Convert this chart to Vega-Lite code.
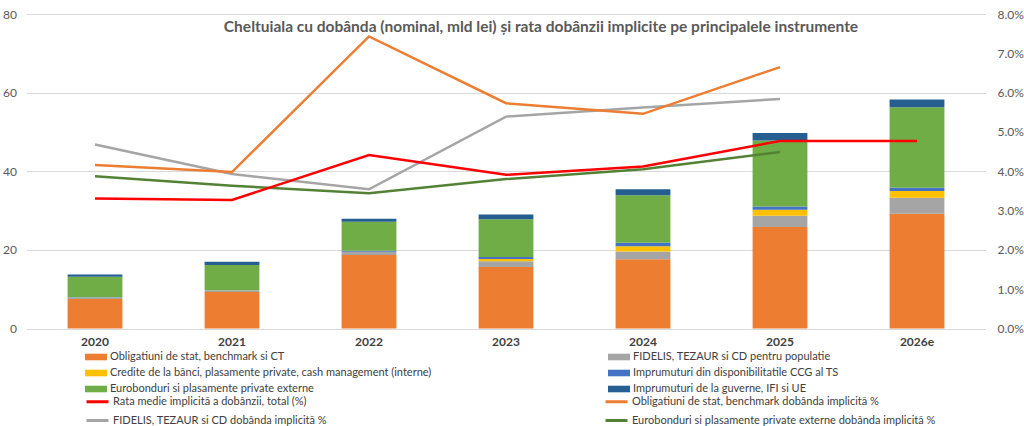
{
  "$schema": "https://vega.github.io/schema/vega-lite/v6.json",
  "width": 959,
  "height": 314.5,
  "autosize": {"type": "none"},
  "padding": {"left": 26.5, "top": 14, "right": 38.5, "bottom": 97.5},
  "config": {
    "view": {"stroke": null},
    "font": "Lato",
    "axis": {"labelFont": "Lato", "labelColor": "#595959", "labelFontSize": 12},
    "legend": {"labelFont": "Lato", "labelFontSize": 11, "labelColor": "#404040", "padding": 0}
  },
  "title": {
    "text": "Cheltuiala cu dobânda (nominal, mld lei) și rata dobânzii implicite pe principalele instrumente",
    "font": "Lato",
    "fontSize": 15.5,
    "fontWeight": "bold",
    "color": "#595959",
    "anchor": "middle",
    "baseline": "middle",
    "offset": 0,
    "dx": 35,
    "dy": 34
  },
  "datasets": {
    "bare": [
      {"an": "2020", "instrument": "Obligatiuni de stat, benchmark si CT", "valoare": 7.5},
      {"an": "2020", "instrument": "FIDELIS, TEZAUR si CD pentru populatie", "valoare": 0.4},
      {"an": "2020", "instrument": "Credite de la bănci, plasamente private, cash management (interne)", "valoare": 0.0},
      {"an": "2020", "instrument": "Imprumuturi din disponibilitatile CCG al TS", "valoare": 0.05},
      {"an": "2020", "instrument": "Eurobonduri si plasamente private externe", "valoare": 5.2},
      {"an": "2020", "instrument": "Imprumuturi de la guverne, IFI si UE", "valoare": 0.6},
      {"an": "2021", "instrument": "Obligatiuni de stat, benchmark si CT", "valoare": 9.3},
      {"an": "2021", "instrument": "FIDELIS, TEZAUR si CD pentru populatie", "valoare": 0.4},
      {"an": "2021", "instrument": "Credite de la bănci, plasamente private, cash management (interne)", "valoare": 0.0},
      {"an": "2021", "instrument": "Imprumuturi din disponibilitatile CCG al TS", "valoare": 0.05},
      {"an": "2021", "instrument": "Eurobonduri si plasamente private externe", "valoare": 6.4},
      {"an": "2021", "instrument": "Imprumuturi de la guverne, IFI si UE", "valoare": 0.85},
      {"an": "2022", "instrument": "Obligatiuni de stat, benchmark si CT", "valoare": 18.7},
      {"an": "2022", "instrument": "FIDELIS, TEZAUR si CD pentru populatie", "valoare": 0.75},
      {"an": "2022", "instrument": "Credite de la bănci, plasamente private, cash management (interne)", "valoare": 0.05},
      {"an": "2022", "instrument": "Imprumuturi din disponibilitatile CCG al TS", "valoare": 0.25},
      {"an": "2022", "instrument": "Eurobonduri si plasamente private externe", "valoare": 7.4},
      {"an": "2022", "instrument": "Imprumuturi de la guverne, IFI si UE", "valoare": 0.75},
      {"an": "2023", "instrument": "Obligatiuni de stat, benchmark si CT", "valoare": 15.65},
      {"an": "2023", "instrument": "FIDELIS, TEZAUR si CD pentru populatie", "valoare": 1.45},
      {"an": "2023", "instrument": "Credite de la bănci, plasamente private, cash management (interne)", "valoare": 0.6},
      {"an": "2023", "instrument": "Imprumuturi din disponibilitatile CCG al TS", "valoare": 0.5},
      {"an": "2023", "instrument": "Eurobonduri si plasamente private externe", "valoare": 9.6},
      {"an": "2023", "instrument": "Imprumuturi de la guverne, IFI si UE", "valoare": 1.2},
      {"an": "2024", "instrument": "Obligatiuni de stat, benchmark si CT", "valoare": 17.6},
      {"an": "2024", "instrument": "FIDELIS, TEZAUR si CD pentru populatie", "valoare": 2.0},
      {"an": "2024", "instrument": "Credite de la bănci, plasamente private, cash management (interne)", "valoare": 1.3},
      {"an": "2024", "instrument": "Imprumuturi din disponibilitatile CCG al TS", "valoare": 0.9},
      {"an": "2024", "instrument": "Eurobonduri si plasamente private externe", "valoare": 12.1},
      {"an": "2024", "instrument": "Imprumuturi de la guverne, IFI si UE", "valoare": 1.5},
      {"an": "2025", "instrument": "Obligatiuni de stat, benchmark si CT", "valoare": 25.8},
      {"an": "2025", "instrument": "FIDELIS, TEZAUR si CD pentru populatie", "valoare": 2.9},
      {"an": "2025", "instrument": "Credite de la bănci, plasamente private, cash management (interne)", "valoare": 1.5},
      {"an": "2025", "instrument": "Imprumuturi din disponibilitatile CCG al TS", "valoare": 0.85},
      {"an": "2025", "instrument": "Eurobonduri si plasamente private externe", "valoare": 16.75},
      {"an": "2025", "instrument": "Imprumuturi de la guverne, IFI si UE", "valoare": 1.9},
      {"an": "2026e", "instrument": "Obligatiuni de stat, benchmark si CT", "valoare": 29.2},
      {"an": "2026e", "instrument": "FIDELIS, TEZAUR si CD pentru populatie", "valoare": 4.05},
      {"an": "2026e", "instrument": "Credite de la bănci, plasamente private, cash management (interne)", "valoare": 1.7},
      {"an": "2026e", "instrument": "Imprumuturi din disponibilitatile CCG al TS", "valoare": 0.85},
      {"an": "2026e", "instrument": "Eurobonduri si plasamente private externe", "valoare": 20.5},
      {"an": "2026e", "instrument": "Imprumuturi de la guverne, IFI si UE", "valoare": 1.95}
    ],
    "rate": [
      {"an": "2020", "serie": "FIDELIS, TEZAUR si CD dobânda implicită %", "rata": 0.0468},
      {"an": "2021", "serie": "FIDELIS, TEZAUR si CD dobânda implicită %", "rata": 0.0393},
      {"an": "2022", "serie": "FIDELIS, TEZAUR si CD dobânda implicită %", "rata": 0.0354},
      {"an": "2023", "serie": "FIDELIS, TEZAUR si CD dobânda implicită %", "rata": 0.0539},
      {"an": "2024", "serie": "FIDELIS, TEZAUR si CD dobânda implicită %", "rata": 0.0562},
      {"an": "2025", "serie": "FIDELIS, TEZAUR si CD dobânda implicită %", "rata": 0.0584},
      {"an": "2020", "serie": "Obligatiuni de stat, benchmark dobânda implicită %", "rata": 0.0416},
      {"an": "2021", "serie": "Obligatiuni de stat, benchmark dobânda implicită %", "rata": 0.0398},
      {"an": "2022", "serie": "Obligatiuni de stat, benchmark dobânda implicită %", "rata": 0.0743},
      {"an": "2023", "serie": "Obligatiuni de stat, benchmark dobânda implicită %", "rata": 0.0573},
      {"an": "2024", "serie": "Obligatiuni de stat, benchmark dobânda implicită %", "rata": 0.0546},
      {"an": "2025", "serie": "Obligatiuni de stat, benchmark dobânda implicită %", "rata": 0.0665},
      {"an": "2020", "serie": "Eurobonduri si plasamente private externe dobânda implicită %", "rata": 0.0387},
      {"an": "2021", "serie": "Eurobonduri si plasamente private externe dobânda implicită %", "rata": 0.0363},
      {"an": "2022", "serie": "Eurobonduri si plasamente private externe dobânda implicită %", "rata": 0.0344},
      {"an": "2023", "serie": "Eurobonduri si plasamente private externe dobânda implicită %", "rata": 0.038},
      {"an": "2024", "serie": "Eurobonduri si plasamente private externe dobânda implicită %", "rata": 0.0405},
      {"an": "2025", "serie": "Eurobonduri si plasamente private externe dobânda implicită %", "rata": 0.0449},
      {"an": "2020", "serie": "Rata medie implicită a dobânzii, total (%)", "rata": 0.0331},
      {"an": "2021", "serie": "Rata medie implicită a dobânzii, total (%)", "rata": 0.0327},
      {"an": "2022", "serie": "Rata medie implicită a dobânzii, total (%)", "rata": 0.0441},
      {"an": "2023", "serie": "Rata medie implicită a dobânzii, total (%)", "rata": 0.0391},
      {"an": "2024", "serie": "Rata medie implicită a dobânzii, total (%)", "rata": 0.0412},
      {"an": "2025", "serie": "Rata medie implicită a dobânzii, total (%)", "rata": 0.0477},
      {"an": "2026e", "serie": "Rata medie implicită a dobânzii, total (%)", "rata": 0.0477}
    ]
  },
  "encoding": {
    "x": {
      "field": "an",
      "type": "ordinal",
      "scale": {"paddingInner": 0.6, "paddingOuter": 0.3},
      "axis": {
        "title": null,
        "labelAngle": 0,
        "ticks": false,
        "domain": false,
        "labelFontWeight": "bold",
        "labelColor": "#404040",
        "labelFontSize": 12,
        "labelPadding": 8
      }
    }
  },
  "layer": [
    {
      "data": {"name": "bare"},
      "transform": [
        {
          "calculate": "indexof(['Obligatiuni de stat, benchmark si CT', 'FIDELIS, TEZAUR si CD pentru populatie', 'Credite de la bănci, plasamente private, cash management (interne)', 'Imprumuturi din disponibilitatile CCG al TS', 'Eurobonduri si plasamente private externe', 'Imprumuturi de la guverne, IFI si UE'], datum.instrument)",
          "as": "nivel"
        }
      ],
      "mark": {"type": "bar"},
      "encoding": {
        "y": {
          "field": "valoare",
          "type": "quantitative",
          "stack": "zero",
          "scale": {"domain": [0, 80]},
          "axis": {
            "title": null,
            "values": [0, 20, 40, 60, 80],
            "ticks": false,
            "domain": false,
            "gridColor": "#d9d9d9",
            "labelPadding": 10
          }
        },
        "order": {"field": "nivel", "type": "quantitative", "sort": "ascending"},
        "color": {
          "field": "instrument",
          "type": "nominal",
          "scale": {
            "domain": [
              "Obligatiuni de stat, benchmark si CT",
              "Credite de la bănci, plasamente private, cash management (interne)",
              "Eurobonduri si plasamente private externe",
              "FIDELIS, TEZAUR si CD pentru populatie",
              "Imprumuturi din disponibilitatile CCG al TS",
              "Imprumuturi de la guverne, IFI si UE"
            ],
            "range": ["#ED7D31", "#FFC000", "#70AD47", "#A5A5A5", "#4472C4", "#255E91"]
          },
          "legend": {
            "title": null,
            "orient": "none",
            "legendX": 58.5,
            "legendY": 332,
            "columns": 2,
            "columnPadding": 176,
            "rowPadding": -2,
            "symbolType": "M-1,-0.3H1V0.3H-1Z",
            "symbolSize": 484,
            "symbolStrokeWidth": 0,
            "labelOffset": 3,
            "labelLimit": 500
          }
        }
      }
    },
    {
      "data": {"name": "rate"},
      "mark": {"type": "line", "strokeWidth": 2.5},
      "encoding": {
        "y": {
          "field": "rata",
          "type": "quantitative",
          "scale": {"domain": [0, 0.08]},
          "axis": {
            "orient": "right",
            "title": null,
            "format": ".1%",
            "values": [0, 0.01, 0.02, 0.03, 0.04, 0.05, 0.06, 0.07, 0.08],
            "ticks": false,
            "domain": false,
            "grid": false,
            "labelPadding": 11.5
          }
        },
        "stroke": {
          "field": "serie",
          "type": "nominal",
          "scale": {
            "domain": [
              "Rata medie implicită a dobânzii, total (%)",
              "FIDELIS, TEZAUR si CD dobânda implicită %",
              "Obligatiuni de stat, benchmark dobânda implicită %",
              "Eurobonduri si plasamente private externe dobânda implicită %"
            ],
            "range": ["#FF0000", "#A5A5A5", "#ED7D31", "#548235"]
          },
          "legend": {
            "title": null,
            "orient": "none",
            "legendX": 58.5,
            "legendY": 375,
            "columns": 2,
            "columnPadding": 272,
            "rowPadding": -5,
            "symbolType": "stroke",
            "symbolSize": 484,
            "symbolStrokeWidth": 3,
            "labelOffset": 3,
            "labelLimit": 500
          }
        },
        "order": {"field": "an", "type": "ordinal"}
      }
    }
  ],
  "resolve": {"scale": {"y": "independent"}}
}
